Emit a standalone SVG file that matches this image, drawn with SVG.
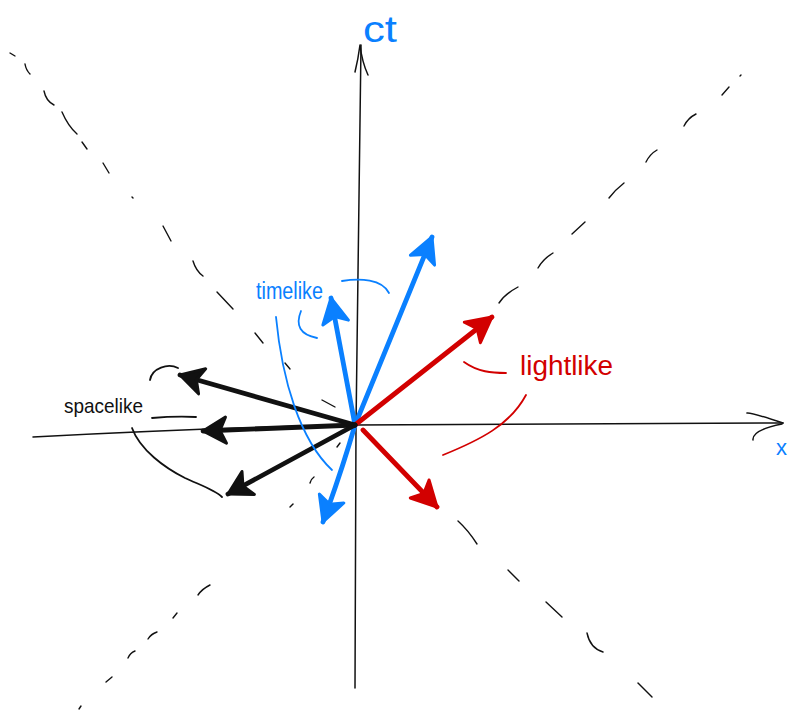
<svg xmlns="http://www.w3.org/2000/svg" width="791" height="713" viewBox="0 0 791 713">
<style>
.axis{fill:none;stroke:#111;stroke-width:1.5;stroke-linecap:round;stroke-linejoin:round}
.dash{fill:none;stroke:#111;stroke-width:1.4;stroke-linecap:round}
.vec{fill:none;stroke-width:4.8;stroke-linecap:round}
.brace{fill:none;stroke-width:1.8;stroke-linecap:round}
.blue{stroke:#0a80ff}
.red{stroke:#d20000}
.black{stroke:#111}
.lbl{font-family:"Liberation Sans","DejaVu Sans",sans-serif}
</style>
<defs>
<marker id="hb" viewBox="-30 -17 32 34" markerWidth="32" markerHeight="34" refX="0" refY="0" markerUnits="userSpaceOnUse" orient="auto">
<path d="M0,0 L-25,-13 L-19,0 L-25,13 Z" fill="#0a80ff" stroke="#0a80ff" stroke-width="3" stroke-linejoin="round"/>
</marker>
<marker id="hr" viewBox="-30 -17 32 34" markerWidth="32" markerHeight="34" refX="0" refY="0" markerUnits="userSpaceOnUse" orient="auto">
<path d="M0,0 L-25,-13 L-19,0 L-25,13 Z" fill="#d20000" stroke="#d20000" stroke-width="3" stroke-linejoin="round"/>
</marker>
<marker id="hk" viewBox="-30 -17 32 34" markerWidth="32" markerHeight="34" refX="0" refY="0" markerUnits="userSpaceOnUse" orient="auto">
<path d="M0,0 L-23,-13 L-17,0 L-23,13 Z" fill="#111" stroke="#111" stroke-width="3" stroke-linejoin="round"/>
</marker>
</defs>
<rect width="791" height="713" fill="#fff"/>

<g id="axes">
<path class="axis" d="M33,437 Q200,428 355,425 L783,423"/>
<path class="axis" d="M747,413 Q750,412 783,423"/>
<path class="axis" d="M753,440 Q752,430 782,424"/>
<path class="axis" d="M355,688 L356,425 L361,45"/>
<path class="axis" d="M355,72 Q358,60 360,45 Q362,62 368,75"/>
</g>

<g id="light-cone">
<path class="dash" d="M10,53 L15,56"/>
<path class="dash" d="M25,64 Q26,70 30,74"/>
<path class="dash" d="M44,91 Q46,101 54,105"/>
<path class="dash" d="M62,112 Q68,126 77,134"/>
<path class="dash" d="M82,142 L87,149"/>
<path class="dash" d="M103,163 L109,173"/>
<path class="dash" d="M132,197 L133,198"/>
<path class="dash" d="M163,226 L171,241"/>
<path class="dash" d="M193,261 Q196,271 203,276"/>
<path class="dash" d="M217,292 L233,309"/>
<path class="dash" d="M255,333 L263,343"/>
<path class="dash" d="M285,363 L290,369"/>
<path class="dash" d="M322,400 L335,407"/>
<path class="dash" d="M458,521 Q468,530 477,544"/>
<path class="dash" d="M508,570 L519,581"/>
<path class="dash" d="M546,602 L562,617"/>
<path class="dash" d="M587,633 Q590,648 603,652"/>
<path class="dash" d="M638,683 L652,697"/>
<path class="dash" d="M740,76 L741,75"/>
<path class="dash" d="M722,95 L729,87"/>
<path class="dash" d="M684,126 Q688,118 696,114"/>
<path class="dash" d="M646,162 Q650,154 657,150"/>
<path class="dash" d="M609,198 Q615,190 624,183"/>
<path class="dash" d="M572,234 L585,222"/>
<path class="dash" d="M538,268 Q543,259 553,253"/>
<path class="dash" d="M499,303 Q505,294 518,287"/>
<path class="dash" d="M337,447 L340,443"/>
<path class="dash" d="M310,483 Q311,479 314,477"/>
<path class="dash" d="M290,507 L293,504"/>
<path class="dash" d="M198,595 Q202,589 210,585"/>
<path class="dash" d="M173,618 L177,613"/>
<path class="dash" d="M148,639 Q151,634 157,632"/>
<path class="dash" d="M128,658 Q130,653 135,651"/>
<path class="dash" d="M106,682 L112,677"/>
<path class="dash" d="M79,709 L81,706"/>
</g>

<g id="vectors">
<path class="vec blue" d="M355,425 L432,237" marker-end="url(#hb)"/>
<path class="vec blue" d="M355,425 L331,298" marker-end="url(#hb)"/>
<path class="vec blue" d="M355,425 Q342,470 323,522" marker-end="url(#hb)"/>
<path class="vec red" d="M355,425 L492,317" marker-end="url(#hr)"/>
<path class="vec red" d="M363,430 L437,507" marker-end="url(#hr)"/>
<path class="vec black" d="M355,425 L180,375" marker-end="url(#hk)"/>
<path class="vec black" d="M355,425 L203,431" marker-end="url(#hk)"/>
<path class="vec black" d="M355,425 L228,494" marker-end="url(#hk)"/>
</g>

<g id="timelike">
<text class="lbl" x="256" y="299" font-size="23" fill="#0a80ff" textLength="67" lengthAdjust="spacingAndGlyphs">timelike</text>
<path class="brace blue" d="M342,281 C360,278 382,279 389,293"/>
<path class="brace blue" d="M301,311 Q292,333 317,338"/>
<path class="brace blue" d="M276,317 C282,380 300,440 332,470"/>
</g>

<g id="spacelike">
<text class="lbl" x="64" y="413" font-size="21" fill="#111" textLength="79" lengthAdjust="spacingAndGlyphs">spacelike</text>
<path class="brace black" d="M150,380 C152,368 168,363 178,368"/>
<path class="brace black" d="M152,418 Q175,416 196,417"/>
<path class="brace black" d="M132,428 C140,450 165,468 185,478 C200,485 215,490 222,497"/>
</g>

<g id="lightlike">
<text class="lbl" x="520" y="375" font-size="27" fill="#d20000" textLength="93" lengthAdjust="spacingAndGlyphs">lightlike</text>
<path class="brace red" d="M464,362 C478,372 492,373 506,373"/>
<path class="brace red" d="M526,395 C510,425 480,440 443,455"/>
</g>

<g id="axis-labels">
<text class="lbl" x="363" y="42" font-size="36" fill="#0a80ff" textLength="34" lengthAdjust="spacingAndGlyphs">ct</text>
<text class="lbl" x="776" y="455" font-size="22" fill="#0a80ff">x</text>
</g>
</svg>
